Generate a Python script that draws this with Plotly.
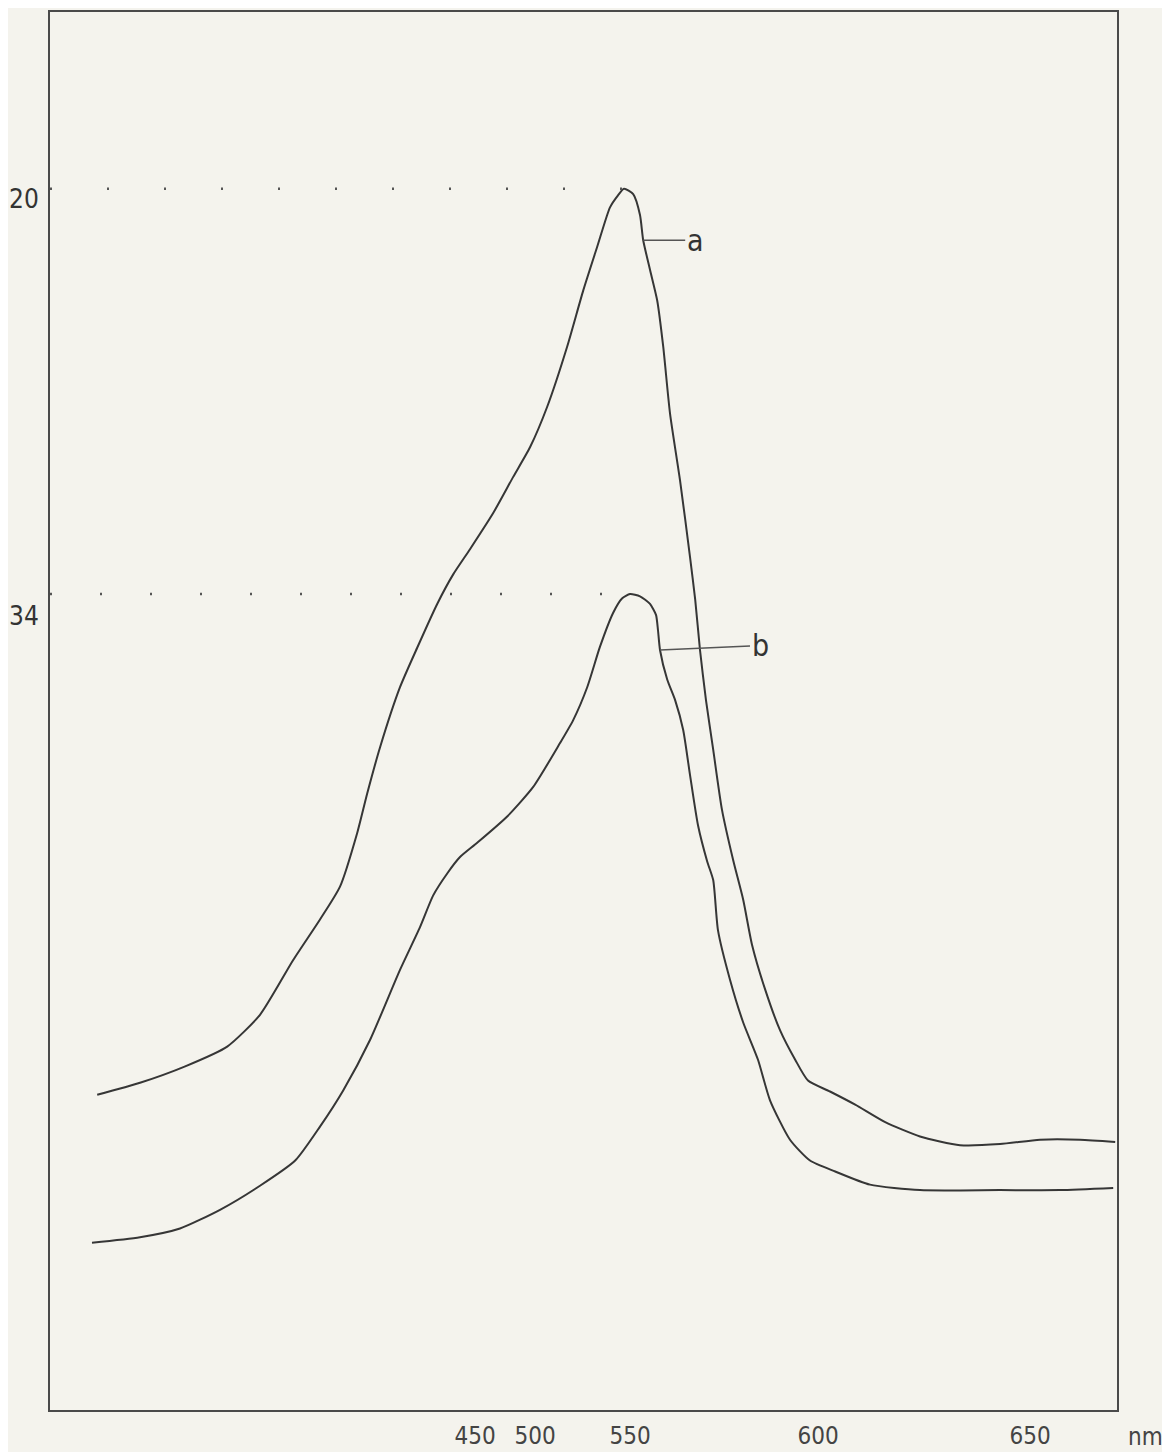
import plotly.graph_objects as go

# ---- data (wavelength in nm, absorbance) ----
wl_a = [416.8, 427.5, 438.8, 449.3, 457.5, 465.8, 472.5, 477.5, 481.8, 484.3,
        487.5, 492.5, 496.8, 501.8, 505.8, 510.0, 515.8, 520.8, 525.0, 529.3,
        534.3, 538.3, 541.8, 545.0, 547.0, 548.5, 550.8, 552.5, 553.3, 555.0,
        556.8, 558.3, 560.0, 562.5, 565.0, 566.3, 567.5, 569.0, 570.8, 573.0,
        575.8, 578.3, 580.5, 583.8, 587.5, 591.3, 594.5, 600.0, 606.3, 613.8,
        622.5, 632.5, 642.5, 652.5, 662.5, 671.3]
abs_a = [0.376, 0.387, 0.402, 0.420, 0.449, 0.499, 0.536, 0.566, 0.615, 0.651,
         0.693, 0.748, 0.784, 0.824, 0.851, 0.874, 0.907, 0.940, 0.967, 1.004,
         1.059, 1.110, 1.150, 1.186, 1.197, 1.203, 1.198, 1.179, 1.156, 1.129,
         1.101, 1.059, 0.998, 0.937, 0.867, 0.828, 0.782, 0.736, 0.691, 0.636,
         0.590, 0.554, 0.513, 0.472, 0.435, 0.408, 0.389, 0.379, 0.367, 0.351,
         0.338, 0.330, 0.331, 0.335, 0.335, 0.333]

wl_b = [415.5, 427.5, 437.5, 447.5, 457.5, 466.3, 472.5, 478.3, 485.0, 492.5,
        497.5, 500.8, 504.3, 507.5, 511.8, 519.3, 525.8, 532.5, 535.8, 539.3,
        542.5, 545.8, 548.0, 550.0, 552.5, 555.0, 556.5, 557.0, 557.5, 559.3,
        561.3, 563.3, 565.0, 567.0, 569.3, 570.8, 572.0, 575.0, 578.3, 582.0,
        585.0, 590.0, 595.0, 601.3, 610.0, 622.5, 642.5, 657.5, 670.8]
abs_b = [0.241, 0.246, 0.254, 0.271, 0.293, 0.316, 0.347, 0.380, 0.426, 0.490,
         0.529, 0.558, 0.578, 0.593, 0.606, 0.630, 0.657, 0.697, 0.718, 0.748,
         0.785, 0.816, 0.829, 0.833, 0.831, 0.824, 0.814, 0.800, 0.782, 0.755,
         0.736, 0.709, 0.668, 0.622, 0.589, 0.572, 0.526, 0.481, 0.442, 0.408,
         0.371, 0.335, 0.316, 0.306, 0.294, 0.289, 0.289, 0.289, 0.291]

x_tick_vals = [511.3, 526.3, 550.0, 597.0, 650.0]
x_tick_text = ["450", "500", "550", "600", "650"]
peak_labels = ["20", "34"]
curve_labels = ["a", "b"]

INK = "#363636"
BG = "#f4f3ed"
FONT = "DejaVu Sans Condensed, DejaVu Sans, sans-serif"

fig = go.Figure()
for wl, ab in [(wl_a, abs_a), (wl_b, abs_b)]:
    fig.add_trace(go.Scatter(x=wl, y=ab, mode="lines",
                             line=dict(color=INK, width=2, shape="spline", smoothing=0.6),
                             showlegend=False, hoverinfo="skip"))

x_min, x_max = 405.0, 671.75
y_min, y_max = 0.0883, 1.3643

# dotted guide lines from the y axis to each peak
for wl, ab, lab, dash, shift in [(wl_a, abs_a, peak_labels[0], "2px,55px", -10),
                                 (wl_b, abs_b, peak_labels[1], "2px,48px", -22)]:
    pk = max(ab)
    pk_x = wl[ab.index(pk)]
    fig.add_shape(type="line", xref="x", yref="y", x0=x_min, x1=pk_x, y0=pk, y1=pk,
                  line=dict(color="#555", width=2.5, dash=dash))
    fig.add_annotation(xref="paper", yref="y", x=0, y=pk, xanchor="right", yanchor="middle",
                       xshift=-9, yshift=shift, text=lab, showarrow=False,
                       font=dict(family=FONT, size=26, color="#333"))

# curve labels a, b with leader lines
i_a = 28
fig.add_annotation(x=wl_a[i_a], y=abs_a[i_a], ax=42, ay=0, text=curve_labels[0],
                   showarrow=True, arrowhead=0, arrowwidth=1.5, arrowcolor="#555",
                   font=dict(family=FONT, size=30, color="#333"), xanchor="left")
i_b = 28
fig.add_annotation(x=wl_b[i_b], y=abs_b[i_b], ax=90, ay=-4, text=curve_labels[1],
                   showarrow=True, arrowhead=0, arrowwidth=1.5, arrowcolor="#555",
                   font=dict(family=FONT, size=30, color="#333"), xanchor="left")

# unit label
fig.add_annotation(xref="paper", yref="paper", x=1, y=0, xanchor="center", yanchor="middle",
                   xshift=28, yshift=-27, text="nm", showarrow=False,
                   font=dict(family=FONT, size=24, color="#444"))

fig.update_xaxes(range=[x_min, x_max], tickvals=x_tick_vals, ticktext=x_tick_text,
                 showgrid=False, zeroline=False, showline=True, mirror=True,
                 linecolor="#4a4a4a", linewidth=2, ticks="", ticklabelstandoff=3,
                 tickfont=dict(family=FONT, size=24, color="#444"))
fig.update_yaxes(range=[y_min, y_max], showticklabels=False, showgrid=False,
                 zeroline=False, showline=True, mirror=True, linecolor="#4a4a4a",
                 linewidth=2, ticks="")

# the page places the figure 8px from the window's top-left corner
fig.update_layout(width=1162, height=1444, autosize=False,
                  margin=dict(l=42, r=53, t=4, b=42, autoexpand=False),
                  paper_bgcolor=BG, plot_bgcolor=BG, showlegend=False)

fig.write_html("out.html")
